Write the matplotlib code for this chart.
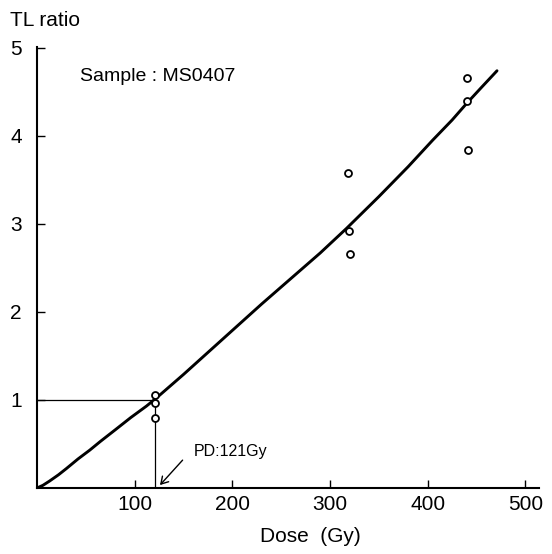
import numpy as np
import matplotlib
matplotlib.use('Agg')
import matplotlib.pyplot as plt

plt.rcParams['font.family'] = ['Liberation Sans', 'DejaVu Sans']

# measured points (dose in Gy, TL ratio)
dose_pts = [121, 121, 121, 318, 319, 320, 440, 440, 441]
tl_pts = [1.06, 0.97, 0.80, 3.58, 2.92, 2.66, 4.66, 4.40, 3.84]

# fitted growth curve
curve_dose = [0, 6, 13, 22, 30, 42, 54, 65, 80, 96, 112, 122, 150, 175, 201, 230, 260, 290, 317, 350, 380, 405, 425, 440, 455, 471]
curve_tl = [0, 0.03, 0.08, 0.15, 0.22, 0.33, 0.43, 0.53, 0.66, 0.80, 0.93, 1.02, 1.29, 1.54, 1.80, 2.09, 2.38, 2.67, 2.95, 3.31, 3.65, 3.95, 4.18, 4.37, 4.55, 4.74]

pd_dose = 121
xticks = [100, 200, 300, 400, 500]
yticks = [1, 2, 3, 4, 5]

fig = plt.figure(figsize=(5.52, 5.54), dpi=100)
ax = fig.add_axes([37/552, 1 - 488/554, (539 - 37)/552, (488 - 47)/554])

ax.plot(curve_dose, curve_tl, color='black', lw=2.1, solid_capstyle='round')
ax.plot([0, pd_dose], [1, 1], color='black', lw=0.9)
ax.plot([pd_dose, pd_dose], [0, 1], color='black', lw=0.9)
ax.plot(dose_pts, tl_pts, 'o', ms=5, mfc='white', mec='black', mew=1.3, zorder=3)

ax.annotate('', xy=(124, 0.01), xytext=(151, 0.34),
            arrowprops=dict(arrowstyle='->,head_length=0.5,head_width=0.3', color='black', lw=1.0))
ax.text(160, 0.41, 'PD:121Gy', fontsize=11.5, va='center', ha='left')
ax.text(44, 4.67, 'Sample : MS0407', fontsize=14, va='center', ha='left')

ax.set_xlim(0, 514)
ax.set_ylim(0, 5.01)
ax.set_xticks(xticks)
ax.set_yticks(yticks)
ax.tick_params(axis='x', direction='in', length=6, width=1, labelsize=15, pad=5)
ax.tick_params(axis='y', direction='in', length=6, width=1, labelsize=15, pad=11)
for s in ['top', 'right']:
    ax.spines[s].set_visible(False)
for s in ['left', 'bottom']:
    ax.spines[s].set_linewidth(1.5)

fig.text(10/552, 1 - 20/554, 'TL ratio', fontsize=15, va='center', ha='left')
fig.text(310/552, 1 - 537/554, 'Dose  (Gy)', fontsize=15, va='center', ha='center')

fig.savefig('out.png', dpi=100)
